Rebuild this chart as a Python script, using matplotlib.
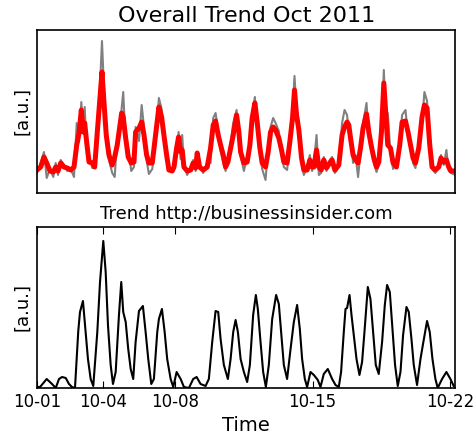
import matplotlib
matplotlib.use("Agg")
import matplotlib.pyplot as plt

# top panel: overall trend (hours since 2011-10-01 00:00)
t_top = [0, 4.5, 8.5, 11.8, 15.8, 19.9, 22.8, 25.6, 28.9, 32.9, 36.9, 41.1, 45.1,
         48.4, 51.2, 54.0, 56.4, 58.1, 60.5, 63.4, 67.4, 70.3, 73.5, 76.4, 79.2,
         81.6, 84.4, 87.7, 91.7, 94.7, 97.8, 101.1, 103.2, 105.1, 108.1, 111.2,
         114.9, 118.2, 120.2, 124.3, 127.6, 130.4, 133.6, 136.4, 140.5, 144.6,
         148.6, 151.9, 154.7, 158.0, 160.8, 164.8, 167.0, 170.2, 172.6, 175.1,
         177.0, 179.1, 183.1, 187.3, 190.4, 193.4, 195.3, 198.2, 202.6, 207.5,
         211.6, 214.8, 217.7, 220.9, 223.8, 227.0, 229.9, 232.7, 236.0, 239.2,
         243.3, 246.1, 248.2, 252.2, 256.2, 259.5, 262.3, 265.6, 268.4, 271.7,
         274.5, 278.6, 281.8, 284.7, 287.9, 290.8, 294.8, 298.1, 300.9, 304.9,
         308.2, 311.5, 313.9, 316.4, 319.2, 322.5, 325.3, 329.3, 332.6, 335.4,
         337.5, 340.8, 343.6, 346.4, 349.6, 352.9, 356.9, 359.8, 363.1, 367.9,
         371.9, 374.9, 378.0, 380.1, 382.2, 385.3, 388.3, 391.4, 394.4, 397.5,
         401.7, 404.5, 407.3, 410.6, 413.9, 416.7, 419.9, 422.8, 425.5, 427.6,
         430.9, 434.1, 438.2, 442.2, 445.1, 449.2, 452.3, 455.3, 458.4, 461.4,
         465.4, 469.4, 472.3, 475.5, 478.8, 481.6, 485.7, 489.8, 492.5, 495.8,
         499.1, 501.9, 504.7, 510.1]
smooth = [23, 26, 36, 30, 22, 21, 26, 22, 30, 26, 25, 23, 26,
          48, 60, 83, 61, 70, 51, 31, 30, 26, 61, 91, 121,
          91, 58, 38, 28, 36, 48, 68, 80, 76, 55, 36,
          30, 31, 61, 65, 71, 58, 38, 30, 30, 58,
          86, 76, 58, 38, 23, 22, 26, 45, 56, 41,
          43, 26, 22, 23, 30, 25, 40, 26, 23, 26,
          45, 68, 72, 58, 48, 38, 26, 31, 45, 58,
          78, 61, 41, 30, 31, 48, 75, 90, 71, 45,
          30, 26, 41, 61, 66, 63, 55, 43, 31, 30,
          51, 75, 103, 78, 63, 35, 23, 23, 33, 26,
          26, 43, 26, 23, 33, 25, 30, 33, 23, 28,
          58, 66, 71, 68, 55, 38, 33, 30, 45, 65,
          79, 61, 48, 35, 26, 31, 61, 110, 75, 48,
          45, 30, 26, 48, 71, 72, 61, 48, 35, 30,
          45, 76, 88, 85, 48, 26, 23, 26, 35, 31,
          33, 26, 22, 22]
raw = [20, 30, 41, 15, 24, 16, 30, 18, 33, 28, 22, 24, 16,
       70, 51, 91, 63, 86, 45, 38, 25, 29, 70, 100, 152,
       105, 50, 33, 20, 16, 55, 62, 85, 101, 50, 45,
       22, 26, 66, 52, 88, 66, 33, 19, 24, 52,
       95, 84, 60, 44, 25, 21, 30, 40, 61, 34,
       58, 28, 18, 26, 33, 22, 41, 28, 20, 30,
       30, 75, 80, 62, 42, 30, 22, 35, 50, 70,
       83, 55, 37, 22, 36, 45, 80, 96, 66, 40,
       24, 13, 45, 66, 75, 70, 62, 38, 26, 23,
       48, 80, 117, 84, 70, 30, 18, 26, 38, 22,
       30, 58, 18, 20, 36, 22, 33, 36, 20, 26,
       70, 83, 78, 60, 58, 30, 38, 16, 40, 70,
       90, 56, 52, 30, 21, 28, 56, 123, 70, 80,
       40, 24, 30, 52, 78, 83, 58, 52, 30, 25,
       48, 70, 101, 92, 45, 24, 20, 28, 38, 28,
       43, 22, 20, 18]

# bottom panel: businessinsider.com
t_site = [0, 3.7, 11.8, 18.3, 22.8, 26.8, 30.5, 35.0, 39.0, 42.6, 46.3, 48.4,
          50.3, 52.4, 56.0, 59.3, 62.1, 65.4, 68.6, 73.5, 76.8, 80.8, 83.7,
          86.5, 89.8, 92.6, 95.9, 99.9, 102.7, 105.1, 108.1, 111.2, 114.2,
          117.3, 120.2, 124.3, 129.1, 132.4, 135.6, 139.3, 142.5, 146.6, 148.6,
          152.3, 155.6, 158.7, 162.9, 166.1, 170.2, 175.1, 179.1, 185.2, 190.4,
          194.6, 199.4, 205.5, 209.5, 213.6, 217.7, 220.9, 223.8, 227.8, 232.7,
          236.0, 239.2, 242.1, 244.9, 248.2, 252.2, 256.2, 259.5, 263.5, 266.8,
          269.2, 272.5, 275.7, 279.0, 282.6, 286.7, 291.5, 294.8, 297.6, 300.9,
          304.9, 309.1, 313.1, 317.1, 320.4, 323.2, 326.5, 329.3, 333.4, 337.5,
          342.3, 345.6, 349.6, 354.5, 359.8, 363.9, 367.9, 370.7, 374.0, 376.1,
          378.0, 381.0, 383.4, 386.2, 389.5, 393.1, 396.3, 399.2, 403.3, 406.5,
          409.7, 413.0, 416.6, 420.7, 424.0, 426.8, 430.1, 433.4, 436.5, 439.8,
          443.1, 446.3, 450.4, 453.2, 456.5, 459.3, 463.3, 467.5, 470.6, 475.5,
          478.8, 482.1, 485.7, 488.5, 493.8, 499.1, 504.0, 508.0]
site = [1, 1, 9, 4, 0, 9, 11, 10, 4, 1, 0, 29,
        57, 76, 87, 56, 29, 9, 2, 56, 106, 147, 116,
        63, 23, 4, 16, 73, 106, 76, 66, 39, 19,
        9, 46, 77, 82, 56, 29, 4, 9, 56, 69,
        79, 56, 29, 9, 1, 16, 9, 1, 0, 9,
        11, 4, 2, 9, 46, 77, 76, 49, 23, 9,
        29, 56, 68, 56, 29, 16, 6, 23, 73, 93,
        79, 46, 16, 1, 23, 69, 93, 84, 56, 23,
        9, 39, 66, 83, 59, 29, 9, 1, 16, 13,
        8, 1, 14, 19, 9, 3, 1, 16, 56, 79,
        80, 93, 73, 53, 29, 13, 26, 56, 101, 89,
        56, 23, 14, 46, 83, 103, 96, 59, 23, 2,
        16, 53, 81, 76, 49, 23, 3, 29, 44, 67,
        56, 29, 9, 0, 9, 16, 9, 2]

tick_pos = [0, 81, 168, 336, 504]
tick_lab = ["10-01", "10-04", "10-08", "10-15", "10-22"]

fig = plt.figure(figsize=(4.77, 4.34), dpi=100)
ax1 = fig.add_axes([0.0776, 0.5553, 0.877, 0.3756])
ax2 = fig.add_axes([0.0776, 0.106, 0.877, 0.371])

ax1.plot(t_top, raw, color="gray", lw=1.5)
ax1.plot(t_top, smooth, color="red", lw=3.6)
ax1.set_xlim(0, 510)
ax1.set_ylim(0, 163)
ax1.set_xticks([])
ax1.set_yticks([])
ax1.set_ylabel("[a.u.]", fontsize=13)
ax1.set_title("Overall Trend Oct 2011", fontsize=16)

ax2.plot(t_site, site, color="black", lw=1.5)
ax2.set_xlim(0, 510)
ax2.set_ylim(0, 161)
ax2.set_yticks([])
ax2.set_xticks(tick_pos)
ax2.set_xticklabels(tick_lab, fontsize=12)
ax2.tick_params(axis="x", direction="in", top=True, length=5)
ax2.set_ylabel("[a.u.]", fontsize=13)
ax2.set_xlabel("Time", fontsize=14)
ax2.set_title("Trend http://businessinsider.com", fontsize=13)

for ax in (ax1, ax2):
    for s in ax.spines.values():
        s.set_linewidth(1.2)

fig.savefig("out.png", dpi=100)
